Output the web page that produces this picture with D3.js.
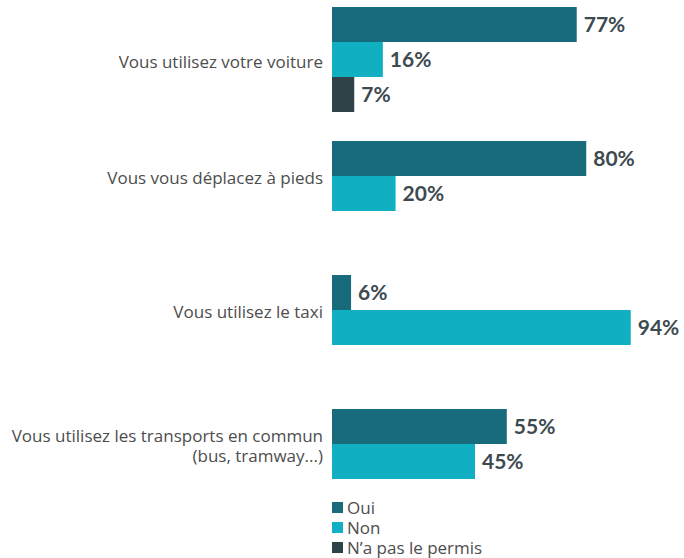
<!DOCTYPE html>
<html><head><meta charset="utf-8">
<script src="https://cdn.jsdelivr.net/npm/d3@7"></script>
<style>
html,body{margin:0;padding:0;background:#fff;}
svg{display:block;}
</style></head>
<body>
<script>
const categories = [
  ["Vous utilisez votre voiture"],
  ["Vous vous déplacez à pieds"],
  ["Vous utilisez le taxi"],
  ["Vous utilisez les transports en commun", "(bus, tramway...)"]
];
const seriesNames = ["Oui", "Non", "N\u2019a pas le permis"];
const oui = [77, 80, 6, 55];
const non = [16, 20, 94, 45];
const napp = [7, null, null, null];
const seriesColors = ["#186b7a", "#10afc2", "#2e4347"];

const W = 684, H = 558;
const svg = d3.select("body").append("svg").attr("width", W).attr("height", H);
const values = [oui, non, napp];
const catIds = categories.map((c, i) => i);

const x = d3.scaleLinear().domain([0, 100]).range([332, 649.8]);
const y0 = d3.scaleBand().domain(catIds).range([7, 514]).paddingInner(29/134).paddingOuter(0);
const y1 = d3.scaleBand().domain(d3.range(seriesNames.length)).range([0, y0.bandwidth()]);

const labelFont = "'Open Sans', sans-serif";
const valueFont = "Lato, sans-serif";

catIds.forEach(ci => {
  const g = svg.append("g").attr("transform", `translate(0,${y0(ci)})`);
  const present = [];
  values.forEach((arr, si) => {
    const v = arr[ci];
    if (v == null) return;
    present.push(si);
    g.append("rect")
      .attr("x", x(0)).attr("y", y1(si))
      .attr("width", x(v) - x(0)).attr("height", y1.bandwidth())
      .attr("fill", seriesColors[si]);
    g.append("text")
      .attr("x", x(v) + 7).attr("y", y1(si) + y1.bandwidth()/2)
      .attr("dy", "0.36em")
      .attr("font-family", valueFont).attr("font-weight", 700)
      .attr("font-size", 21).attr("fill", "#3d4a50")
      .text(v + "%");
  });
  const cy = (y1(present[0]) + y1(present[present.length-1]) + y1.bandwidth())/2 + 2;
  const lines = categories[ci];
  const lh = 20;
  lines.forEach((ln, li) => {
    g.append("text")
      .attr("x", 323).attr("y", cy + (li - (lines.length-1)/2)*lh)
      .attr("dy", "0.36em").attr("text-anchor", "end")
      .attr("font-family", labelFont).attr("font-size", 17).attr("fill", "#4d4d4d")
      .text(ln);
  });
});

// legend
const leg = svg.append("g");
seriesNames.forEach((n, i) => {
  const cy = 507.5 + i*20;
  leg.append("rect").attr("x", 332).attr("y", cy - 5.5).attr("width", 11).attr("height", 11)
    .attr("fill", seriesColors[i]);
  leg.append("text").attr("x", 347).attr("y", cy).attr("dy", "0.36em")
    .attr("font-family", labelFont).attr("font-size", 17).attr("fill", "#4d4d4d").text(n);
});
</script>
</body></html>
